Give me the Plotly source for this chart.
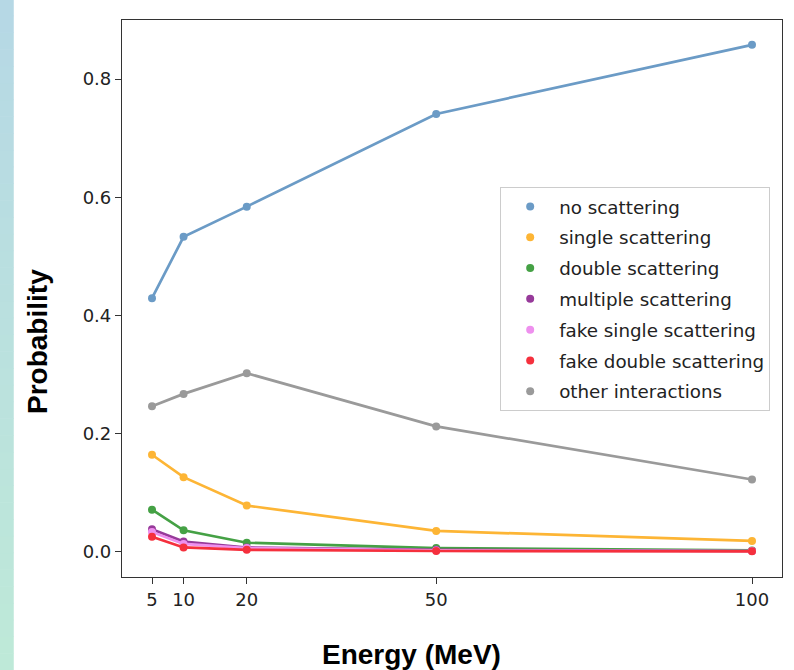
import plotly.graph_objects as go

# Beam energies (MeV) and interaction probabilities per category
energy = [5, 10, 20, 50, 100]
no_scattering = [0.429, 0.533, 0.584, 0.741, 0.858]
single_scattering = [0.164, 0.126, 0.078, 0.035, 0.018]
double_scattering = [0.071, 0.036, 0.015, 0.006, 0.002]
multiple_scattering = [0.038, 0.017, 0.007, 0.003, 0.001]
fake_single_scattering = [0.033, 0.013, 0.006, 0.002, 0.001]
fake_double_scattering = [0.025, 0.007, 0.003, 0.001, 0.0005]
other_interactions = [0.246, 0.267, 0.302, 0.212, 0.122]

x_ticks = [5, 10, 20, 50, 100]
y_ticks = [0.0, 0.2, 0.4, 0.6, 0.8]

series = [
    ("no scattering", no_scattering, "#6b9bc6"),
    ("single scattering", single_scattering, "#fdb535"),
    ("double scattering", double_scattering, "#45a145"),
    ("multiple scattering", multiple_scattering, "#973a9a"),
    ("fake single scattering", fake_single_scattering, "#ee90ee"),
    ("fake double scattering", fake_double_scattering, "#f5303d"),
    ("other interactions", other_interactions, "#9a9a9a"),
]

fig = go.Figure()
for i, (name, vals, color) in enumerate(series):
    # connecting line
    fig.add_trace(go.Scatter(
        x=energy, y=vals, mode="lines", name=name,
        line=dict(color=color, width=2.7), showlegend=False,
        legendgroup=f"g{i}", hoverinfo="skip",
    ))
    # point markers (also provide the legend dot)
    fig.add_trace(go.Scatter(
        x=energy, y=vals, mode="markers", name=name,
        marker=dict(color=color, size=8), showlegend=True,
        legendgroup=f"g{i}",
    ))

# decorative gradient strip on the left edge
top_rgb = (182, 216, 229)
bot_rgb = (190, 233, 216)
n_bands = 40
y_lo, y_hi = -0.168, 1.037
shapes = []
for k in range(n_bands):
    t = k / (n_bands - 1)
    r = round(bot_rgb[0] + (top_rgb[0] - bot_rgb[0]) * t)
    g = round(bot_rgb[1] + (top_rgb[1] - bot_rgb[1]) * t)
    b = round(bot_rgb[2] + (top_rgb[2] - bot_rgb[2]) * t)
    y0 = y_lo + (y_hi - y_lo) * k / n_bands
    y1 = y_lo + (y_hi - y_lo) * (k + 1) / n_bands + 0.001
    shapes.append(dict(
        type="rect", xref="paper", yref="paper",
        x0=-0.19, x1=-0.164, y0=y0, y1=y1,
        fillcolor=f"rgb({r},{g},{b})", line=dict(width=0), layer="below",
    ))

axis_common = dict(
    showline=True, mirror=True, linecolor="#333333", linewidth=1.2,
    ticks="outside", ticklen=6, tickwidth=1.2, tickcolor="#333333",
    showgrid=False, zeroline=False, automargin=False,
    tickfont=dict(family="DejaVu Sans", size=18, color="#222222"),
)

title_font = dict(family="Liberation Sans", size=28, color="black", weight="bold")

fig.update_layout(
    width=794, height=670,
    margin=dict(l=122, r=12, t=20, b=93),
    paper_bgcolor="white", plot_bgcolor="white",
    shapes=shapes,
    xaxis=dict(
        range=[0.25, 104.75], tickvals=x_ticks, ticktext=[str(v) for v in x_ticks],
        **axis_common,
    ),
    yaxis=dict(
        range=[-0.043, 0.9], tickvals=y_ticks, ticktext=[f"{v:.1f}" for v in y_ticks],
        **axis_common,
    ),
    annotations=[
        dict(text="Energy (MeV)", xref="paper", yref="paper", x=0.4379, y=-0.140,
             xanchor="center", yanchor="middle", showarrow=False, font=title_font),
        dict(text="Probability", xref="paper", yref="paper", x=-0.1273, y=0.4237,
             xanchor="center", yanchor="middle", showarrow=False, textangle=-90,
             font=title_font),
    ],
    legend=dict(
        x=0.573, y=0.700, xanchor="left", yanchor="top",
        bordercolor="#cccccc", borderwidth=1, bgcolor="white",
        font=dict(family="DejaVu Sans", size=18.3, color="#222222"),
        tracegroupgap=4, itemwidth=48,
    ),
)

fig.write_html("out.html")
